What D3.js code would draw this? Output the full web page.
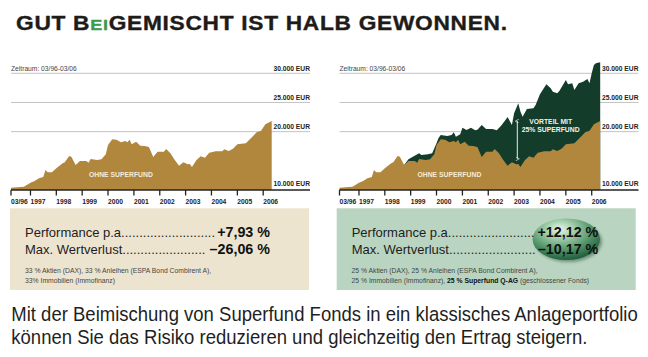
<!DOCTYPE html>
<html><head><meta charset="utf-8">
<script src="https://cdn.jsdelivr.net/npm/d3@7"></script>
<style>
html,body{margin:0;padding:0;background:#fff;}
svg{display:block;font-family:"Liberation Sans",Arial,Helvetica,sans-serif;}
</style></head><body>
<svg id="c" width="648" height="357"></svg>
<script>
// ---------- DATA ----------
const ohneDates = ["1996-04","1996-10","1997-01","1997-03","1997-05","1997-07","1997-08","1997-09","1997-11","1998-01","1998-04","1998-05","1998-07","1998-08","1998-10","1998-12","1999-03","1999-04","1999-05","1999-08","1999-10","1999-12","2000-01","2000-03","2000-05","2000-07","2000-09","2000-10","2000-11","2000-12","2001-02","2001-04","2001-06","2001-08","2001-10","2001-12","2002-03","2002-04","2002-06","2002-08","2002-10","2002-12","2003-02","2003-03","2003-04","2003-06","2003-08","2003-10","2003-12","2004-03","2004-06","2004-07","2004-09","2004-11","2005-01","2005-05","2005-08","2005-10","2005-12","2006-02","2006-05"];
const ohneValues = [10400,10570,11250,11540,12000,12230,13430,13030,13030,13720,14580,14750,15830,15710,14290,14970,14970,14680,15310,15140,15260,16120,17710,18690,18620,18180,18400,18180,18620,17830,18280,17590,17540,17370,15660,16560,16560,17030,16290,15140,14170,14750,14400,14460,13940,15090,15780,15540,16390,16630,16630,16980,16680,17080,17830,18000,19140,19890,20160,21260,21830];
const mitDates = ["1998-10","1998-12","1999-02","1999-05","1999-06","1999-09","1999-11","2000-01","2000-02","2000-03","2000-06","2000-08","2000-09","2000-10","2000-12","2001-01","2001-03","2001-05","2001-07","2001-08","2001-10","2001-12","2002-03","2002-05","2002-07","2002-09","2002-10","2002-12","2003-01","2003-03","2003-04","2003-05","2003-07","2003-10","2003-11","2004-01","2004-04","2004-06","2004-07","2004-09","2004-10","2005-01","2005-02","2005-04","2005-05","2005-07","2005-09","2005-11","2005-12","2006-01","2006-02","2006-03","2006-05"];
const mitValues = [14290,15260,15710,16290,16000,16120,16290,18000,18960,19430,19260,19430,19890,19140,19550,20680,20280,20680,20230,20340,21140,20460,20460,20230,21020,22000,22510,21140,23150,24860,23420,22560,23880,24000,24570,26400,28120,27430,26850,26570,26970,28850,28120,28290,27140,28290,28560,29030,28290,30000,31430,31720,31890];

const xTickDates = ["1996-04","1997-01","1998-01","1999-01","2000-01","2001-01","2002-01","2003-01","2004-01","2005-01","2006-01"];
const xTickLabels = ["03/96","1997","1998","1999","2000","2001","2002","2003","2004","2005","2006"];
const yGridValues = [20000, 25000, 30000];
const yLabelValues = [10000, 20000, 25000, 30000];
const yLabels = ["10.000 EUR","20.000 EUR","25.000 EUR","30.000 EUR"];
const periodLabel = "Zeitraum: 03/96-03/06";

const titleParts = ["GUT B", "EI", "GEMISCHT IST HALB GEWONNEN."];
const perfLabels = ["Performance p.a.", "Max. Wertverlust"];
const perfLeft = ["+7,93 %", "\u201326,06 %"];
const perfRight = ["+12,12 %", "\u201310,17 %"];
const noteLeft = ["33 % Aktien (DAX), 33 % Anleihen (ESPA Bond Combirent A),", "33% Immobilien (Immofinanz)"];
const noteRight1 = "25 % Aktien (DAX), 25 % Anleihen (ESPA Bond Combirent A),";
const noteRight2 = ["25 % Immobilien (Immofinanz), ", "25 % Superfund Q-AG", " (geschlossener Fonds)"];
const bottomLines = ["Mit der Beimischung von Superfund Fonds in ein klassisches Anlageportfolio",
                     "können Sie das Risiko reduzieren und gleichzeitig den Ertrag steigern."];

// ---------- SETUP ----------
const parse = d3.timeParse("%Y-%m");
const ohne = ohneDates.map((d,i)=>({date:parse(d), v:ohneValues[i]}));
const mit = mitDates.map((d,i)=>({date:parse(d), v:mitValues[i]}));
const svg = d3.select("#c");

const GOLD = "#b0873c", DARKGREEN = "#133c2a", INK = "#1e1b18";

const defs = svg.append("defs");
const mk = defs.append("marker").attr("id","ah").attr("viewBox","0 0 10 10")
  .attr("refX",5).attr("refY",5).attr("markerWidth",4).attr("markerHeight",5)
  .attr("orient","auto-start-reverse").attr("markerUnits","userSpaceOnUse");
mk.append("path").attr("d","M0,9 L5,0 L10,9").attr("fill","none").attr("stroke","#fff").attr("stroke-width",1.6);

const rg = defs.append("radialGradient").attr("id","ball").attr("cx","42%").attr("cy","32%").attr("r","70%").attr("fx","40%").attr("fy","25%");
rg.append("stop").attr("offset","0%").attr("stop-color","#eaf5ea");
rg.append("stop").attr("offset","30%").attr("stop-color","#a3cfac");
rg.append("stop").attr("offset","70%").attr("stop-color","#4a8f62");
rg.append("stop").attr("offset","100%").attr("stop-color","#1f5a3b");
const blur = defs.append("filter").attr("id","blur").attr("x","-30%").attr("y","-30%").attr("width","160%").attr("height","160%");
blur.append("feGaussianBlur").attr("stdDeviation",1.6);

// ---------- CHARTS ----------
function drawChart(offsetX, withSuperfund) {
  const g = svg.append("g").attr("transform", `translate(${offsetX},0)`);
  const x = d3.scaleTime().domain(d3.extent(ohne, d=>d.date)).range([11, 271.7]);
  const y = d3.scaleLinear().domain([10000, 30000]).range([190, 73.3]);
  const gx0 = 11, gx1 = 310;

  g.selectAll("line.grid").data(yGridValues).join("line").attr("class","grid")
    .attr("x1",gx0).attr("x2",gx1).attr("y1",d=>y(d)).attr("y2",d=>y(d))
    .attr("stroke","#b4b4b4").attr("stroke-width",0.8);

  const area = d3.area().x(d=>x(d.date)).y0(y(10000)).y1(d=>y(d.v));
  if (withSuperfund) {
    g.append("path").datum(mit).attr("d",area).attr("fill",DARKGREEN);
  }
  g.append("path").datum(ohne).attr("d",area).attr("fill",GOLD);

  g.append("line").attr("x1",gx0).attr("x2",gx1).attr("y1",y(10000)).attr("y2",y(10000))
    .attr("stroke","#222").attr("stroke-width",1.4);

  const ticks = xTickDates.map((d,i)=>({date:parse(d), label:xTickLabels[i]}));
  g.selectAll("line.tick").data(ticks).join("line").attr("class","tick")
    .attr("x1",d=>x(d.date)).attr("x2",d=>x(d.date)).attr("y1",y(10000)).attr("y2",y(10000)+5.5)
    .attr("stroke","#222").attr("stroke-width",1.3);
  g.selectAll("text.tl").data(ticks).join("text").attr("class","tl")
    .attr("x",d=>x(d.date)).attr("y",203.5).attr("font-size",6.7).attr("font-weight","bold")
    .attr("fill","#222").text(d=>d.label);

  g.selectAll("text.yl").data(yLabelValues).join("text").attr("class","yl")
    .attr("x",gx1).attr("y",(d)=>y(d)-(d===10000?4:2.2)).attr("text-anchor","end")
    .attr("font-size",6.7).attr("font-weight","bold").attr("fill","#222")
    .text((d,i)=>yLabels[i]);

  g.append("text").attr("x",gx0).attr("y",y(30000)-2.4).attr("font-size",6.7)
    .attr("fill","#444").text(periodLabel);

  g.append("text").attr("x",x(parse("2000-07"))).attr("y",y(12200)).attr("text-anchor","middle")
    .attr("font-size",6.8).attr("font-weight","bold").attr("fill","#f4ecda").text("OHNE SUPERFUND");

  if (withSuperfund) {
    const ax = x(parse("2003-02")) + 1;
    g.append("line").attr("x1",ax).attr("x2",ax).attr("y1",y(21800)).attr("y2",y(15350))
      .attr("stroke","#fff").attr("stroke-width",0.9)
      .attr("marker-start","url(#ah)").attr("marker-end","url(#ah)");
    const lx = x(parse("2004-06"));
    g.append("text").attr("x",lx).attr("y",y(21300)).attr("text-anchor","middle")
      .attr("font-size",6.8).attr("font-weight","bold").attr("fill","#f2f2ee").text("VORTEIL MIT");
    g.append("text").attr("x",lx).attr("y",y(20000)).attr("text-anchor","middle")
      .attr("font-size",6.8).attr("font-weight","bold").attr("fill","#f2f2ee").text("25% SUPERFUND");
  }
}
drawChart(0, false);
drawChart(328.5, true);

// ---------- BOXES ----------
svg.append("rect").attr("x",10).attr("y",208.3).attr("width",299).attr("height",81.7).attr("fill","#ede4cf");
svg.append("rect").attr("x",336.7).attr("y",208.3).attr("width",299).attr("height",81.7).attr("fill","#b9d5c1");

svg.append("ellipse").attr("cx",568.5).attr("cy",241.5).attr("rx",33.5).attr("ry",20.5)
  .attr("fill","#16402a").attr("opacity",0.45).attr("filter","url(#blur)");
svg.append("ellipse").attr("cx",566.3).attr("cy",239.2).attr("rx",33.7).attr("ry",20.8).attr("fill","url(#ball)");

function perfRows(x0, x1, values) {
  const base = [236.7, 254.3];
  perfLabels.forEach((lab,i)=>{
    const v = svg.append("text").attr("x",x1).attr("y",base[i]).attr("text-anchor","end")
      .attr("font-size",14.3).attr("font-weight","bold").attr("fill","#111").text(values[i]);
    const t = svg.append("text").attr("x",x0).attr("y",base[i]).attr("font-size",13)
      .attr("fill","#1d1d1d").text(lab);
    const wl = t.node().getComputedTextLength();
    const wv = v.node().getComputedTextLength();
    const probe = svg.append("text").attr("font-size",13).text("..........");
    const dw = probe.node().getComputedTextLength()/10; probe.remove();
    const n = Math.floor((x1 - wv - 1 - (x0 + wl)) / dw);
    t.text(lab + ".".repeat(Math.max(0,n)));
  });
}
perfRows(25, 270, perfLeft);
perfRows(351.7, 598.3, perfRight);

svg.selectAll("text.nl").data(noteLeft).join("text").attr("class","nl")
  .attr("x",25).attr("y",(d,i)=>272.5+i*10).attr("font-size",6.8).attr("fill","#444").text(d=>d);
svg.append("text").attr("x",351.5).attr("y",272.5).attr("font-size",6.8).attr("fill","#444").text(noteRight1);
const nr = svg.append("text").attr("x",351.5).attr("y",282.5).attr("font-size",6.8).attr("fill","#444");
noteRight2.forEach((s,i)=>{
  const ts = nr.append("tspan").text(s);
  if (i===1) ts.attr("font-weight","bold").attr("fill","#111");
});

// ---------- TITLE ----------
const title = svg.append("text").attr("font-size",19.5).attr("font-weight","bold")
  .attr("letter-spacing",0.6).attr("fill",INK).attr("stroke",INK).attr("stroke-width",0.35);
titleParts.forEach((s,i)=>{
  const ts = title.append("tspan").text(s);
  if (i===1) ts.attr("fill","#3a9b48").attr("stroke","#3a9b48").attr("font-size",15.5);
});
const tw = title.node().getBBox().width;
title.attr("transform",`translate(16,29.6) scale(${492/tw},1)`);

// ---------- BOTTOM TEXT ----------
const bl = svg.append("g");
const lines = bl.selectAll("text").data(bottomLines).join("text")
  .attr("x",0).attr("y",(d,i)=>i*23.5).attr("font-size",19.5).attr("fill","#1f1f1f").text(d=>d);
const w1 = lines.nodes()[0].getComputedTextLength();
bl.attr("transform",`translate(11.3,321) scale(${627/w1},1)`);
</script>
</body></html>
